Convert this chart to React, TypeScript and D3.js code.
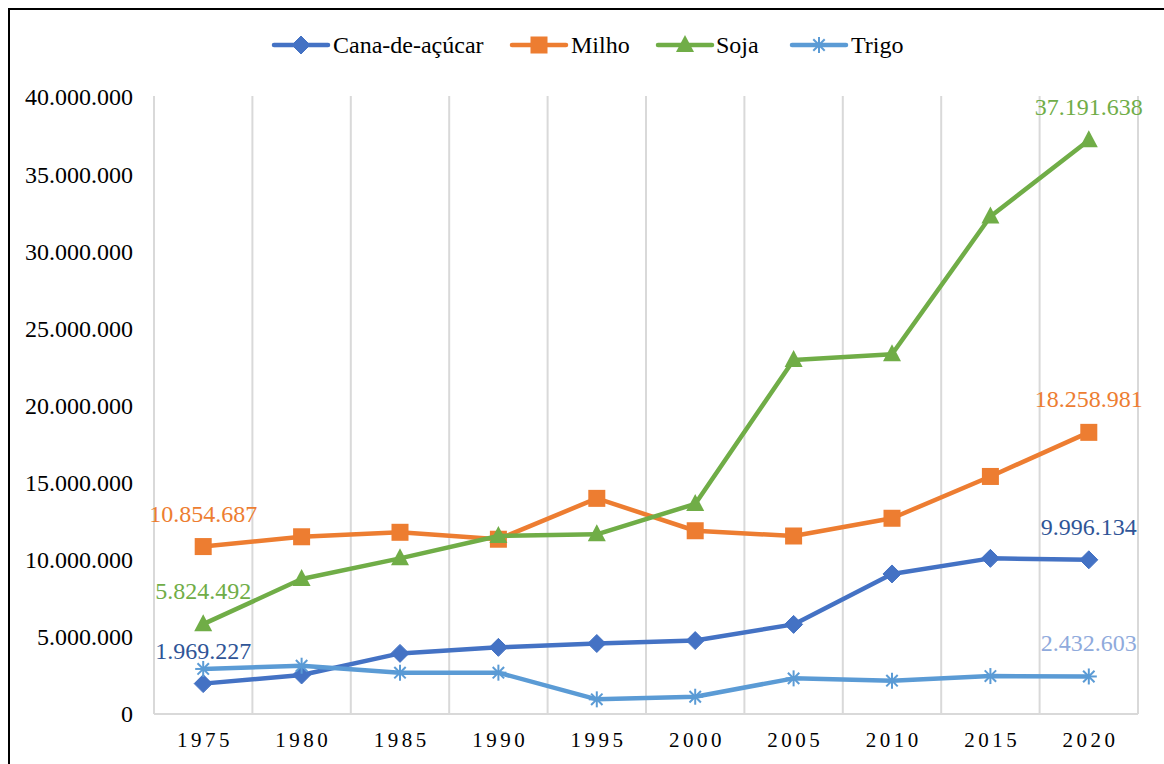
import React from "react";
import * as d3 from "d3";

const years = ["1975", "1980", "1985", "1990", "1995", "2000", "2005", "2010", "2015", "2020"];
const cana = [1969227, 2530000, 3930000, 4320000, 4570000, 4760000, 5810000, 9080000, 10090000, 9996134];
const milho = [10854687, 11490000, 11780000, 11330000, 13980000, 11880000, 11540000, 12690000, 15400000, 18258981];
const soja = [5824492, 8750000, 10090000, 11540000, 11650000, 13620000, 22950000, 23320000, 32250000, 37191638];
const trigo = [2920000, 3130000, 2680000, 2680000, 950000, 1120000, 2310000, 2160000, 2460000, 2432603];
const yTicks = [0, 5000000, 10000000, 15000000, 20000000, 25000000, 30000000, 35000000, 40000000];

const seriesList = [
  { name: "Cana-de-açúcar", values: cana, color: "#4472C4", labelColor: "#2F5597", marker: "diamond", labels: [0, 9] },
  { name: "Milho", values: milho, color: "#ED7D31", labelColor: "#ED7D31", marker: "square", labels: [0, 9] },
  { name: "Soja", values: soja, color: "#70AD47", labelColor: "#70AD47", marker: "triangle", labels: [0, 9] },
  { name: "Trigo", values: trigo, color: "#5B9BD5", labelColor: "#8FAADC", marker: "star", labels: [9] },
];

const fmt = (v: number) => {
  const s = Math.round(v).toString();
  return s.replace(/\B(?=(\d{3})+(?!\d))/g, ".");
};

const FONT = "Liberation Serif, Tinos, Times New Roman, DejaVu Serif, serif";

function Marker({ type, x, y, color }: { type: string; x: number; y: number; color: string }) {
  if (type === "diamond") {
    const r = 9;
    return <path d={`M${x},${y - r}L${x + r},${y}L${x},${y + r}L${x - r},${y}Z`} fill={color} stroke={color} strokeWidth={1} />;
  }
  if (type === "square") {
    const h = 8.5;
    return <rect x={x - h} y={y - h} width={2 * h} height={2 * h} fill={color} />;
  }
  if (type === "triangle") {
    const w = 9, hTop = 10, hBot = 7;
    return <path d={`M${x},${y - hTop}L${x + w},${y + hBot}L${x - w},${y + hBot}Z`} fill={color} />;
  }
  const r = 8;
  const d = 5.7;
  return (
    <g stroke={color} strokeWidth={2}>
      <line x1={x} y1={y - r} x2={x} y2={y + r} />
      <line x1={x - d} y1={y - d} x2={x + d} y2={y + d} />
      <line x1={x - d} y1={y + d} x2={x + d} y2={y - d} />
      <line x1={x - r} y1={y} x2={x + r} y2={y} />
    </g>
  );
}

export default function App() {
  const left = 154, right = 1138, top = 97, bottom = 714;
  const x = d3.scaleBand<string>().domain(years).range([left, right]);
  const y = d3.scaleLinear().domain([0, 40000000]).range([bottom, top]);
  const cx = (yr: string) => (x(yr) as number) + x.bandwidth() / 2;
  const line = d3.line<number>().x((_, i) => cx(years[i])).y((v) => y(v));

  const boundaries = years.map((yr) => x(yr) as number).concat([right]);

  const legendItems = [
    { s: seriesList[0], lx: 274, tx: 333 },
    { s: seriesList[1], lx: 512, tx: 571 },
    { s: seriesList[2], lx: 658, tx: 716 },
    { s: seriesList[3], lx: 792, tx: 851 },
  ];
  const legendY = 45;

  return (
    <svg width={1164} height={764} style={{ position: "absolute", left: 0, top: 0, background: "#fff", fontFamily: FONT }}>
      <rect x={0} y={0} width={1164} height={764} fill="#fff" />
      <rect x={9} y={9} width={1200} height={800} fill="none" stroke="#000" strokeWidth={2} />

      {boundaries.map((bx, i) => (
        <line key={i} x1={bx} x2={bx} y1={top - 1} y2={bottom} stroke="#d9d9d9" strokeWidth={2} />
      ))}
      <line x1={left} x2={right} y1={bottom} y2={bottom} stroke="#d9d9d9" strokeWidth={2} />

      {yTicks.map((t) => (
        <text key={t} x={133} y={y(t)} dy="0.35em" textAnchor="end" fontSize={24} fill="#000">
          {fmt(t)}
        </text>
      ))}

      {years.map((yr) => (
        <text key={yr} x={cx(yr) + 1.75} y={747} textAnchor="middle" fontSize={21} letterSpacing={3.5} fill="#000">
          {yr}
        </text>
      ))}

      {seriesList.map((s) => (
        <g key={s.name}>
          <path d={line(s.values) || ""} fill="none" stroke={s.color} strokeWidth={4.5} strokeLinejoin="round" strokeLinecap="round" />
          {s.values.map((v, i) => (
            <Marker key={i} type={s.marker} x={cx(years[i])} y={y(v)} color={s.color} />
          ))}
        </g>
      ))}

      {seriesList.map((s) =>
        s.labels.map((i) => (
          <text key={s.name + i} x={cx(years[i])} y={y(s.values[i]) - 25} textAnchor="middle" fontSize={24} fill={s.labelColor}>
            {fmt(s.values[i])}
          </text>
        ))
      )}

      {legendItems.map(({ s, lx, tx }) => (
        <g key={s.name}>
          <line x1={lx} x2={lx + 54} y1={legendY} y2={legendY} stroke={s.color} strokeWidth={4.5} strokeLinecap="round" />
          <Marker type={s.marker} x={lx + 27} y={legendY} color={s.color} />
          <text x={tx} y={legendY} dy="0.35em" fontSize={24} fill="#000">
            {s.name}
          </text>
        </g>
      ))}
    </svg>
  );
}
